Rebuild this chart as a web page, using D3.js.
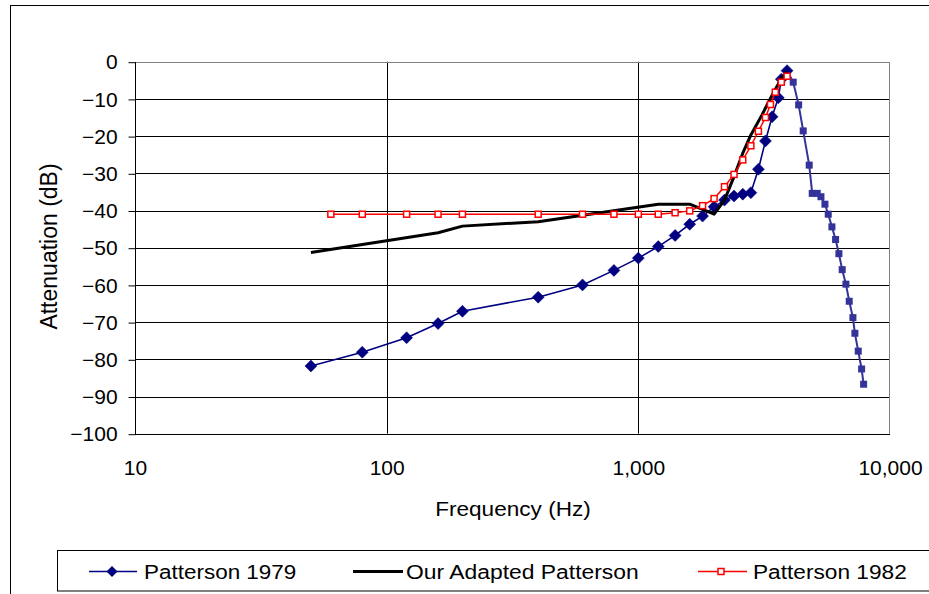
<!DOCTYPE html>
<html>
<head>
<meta charset="utf-8">
<script src="https://cdn.jsdelivr.net/npm/d3@7"></script>
<style>
  html, body { margin: 0; padding: 0; background: #fff; }
  svg { display: block; }
  text { font-family: "Liberation Sans", Arial, sans-serif; fill: #000; }
</style>
</head>
<body>
<svg id="chart" width="929" height="594"></svg>
<script>
// ---------------- data ----------------
const seriesNames = ["Patterson 1979", "Our Adapted Patterson", "Patterson 1982"];

// Patterson 1979 – low side (diamond markers)
const p79Freq = [50, 80, 120, 160, 200, 400, 600, 800, 1000, 1200, 1400, 1600, 1800, 2000,
                 2200, 2400, 2600, 2800, 3000, 3200, 3400, 3600, 3700, 3900];
const p79Att  = [-81.8, -78.1, -74.2, -70.4, -67.1, -63.3, -60.0, -56.1, -52.8, -49.7, -46.7, -43.7, -41.5, -39.0,
                 -37.2, -36.1, -35.6, -35.2, -28.9, -21.3, -14.8, -9.7, -4.7, -2.4];

// Patterson 1979 – high side (square markers)
const p79HighFreq = [4125, 4335, 4520, 4775, 4909, 5138, 5316, 5514, 5683, 5878,
                     6078, 6266, 6457, 6681, 6886, 7123, 7253, 7477, 7713, 7855];
const p79HighAtt  = [-5.5, -11.6, -18.6, -27.8, -35.4, -35.4, -36.3, -38.3, -41.0, -44.4,
                     -47.8, -51.6, -55.9, -59.8, -64.4, -68.8, -73.0, -77.8, -82.6, -86.7];

// Our Adapted Patterson (line only)
const adaptFreq = [50, 160, 200, 400, 1200, 1600, 2000, 2200, 2400, 2600, 2800, 3100, 3400, 3700, 3900];
const adaptAtt  = [-51.3, -46.0, -44.2, -43.0, -38.3, -38.3, -41.0, -37.2, -30.9, -24.6, -19.7, -14.3, -9.0, -4.5, -2.7];

// Patterson 1982 (open squares)
const p82Freq = [60, 80, 120, 160, 200, 400, 600, 800, 1000, 1200, 1400, 1600, 1800, 2000,
                 2200, 2400, 2600, 2800, 3000, 3200, 3350, 3500, 3700, 3900];
const p82Att  = [-41.0, -41.0, -41.0, -41.0, -41.0, -41.0, -41.0, -41.0, -41.0, -41.0, -40.6, -40.1, -38.7, -36.8,
                 -33.6, -30.3, -26.4, -22.6, -18.7, -15.0, -11.5, -8.2, -5.5, -3.9];

const xTicks = [10, 100, 1000, 10000];
const yTicks = [0, -10, -20, -30, -40, -50, -60, -70, -80, -90, -100];
const xTitle = "Frequency (Hz)";
const yTitle = "Attenuation (dB)";

// ---------------- layout ----------------
const svg = d3.select("#chart");
const L = 135, R = 890, T = 61.7, B = 433.7;
const x = d3.scaleLog().domain([10, 10000]).range([L, R]);
const y = d3.scaleLinear().domain([-100, 0]).range([B, T]);

const navy = "#000080", blue2 = "#333399", red = "#FF0000";

// outer chart border
svg.append("rect").attr("x", 10.5).attr("y", 5.5).attr("width", 940).attr("height", 600)
  .attr("fill", "#fff").attr("stroke", "#000").attr("stroke-width", 1);

// plot area
svg.append("rect").attr("x", L).attr("y", T).attr("width", R - L).attr("height", B - T)
  .attr("fill", "#fff");

// horizontal gridlines
svg.append("g").selectAll("line").data(yTicks.filter(v => v !== 0 && v !== -100)).join("line")
  .attr("x1", L).attr("x2", R)
  .attr("y1", d => Math.round(y(d)) + 0.5).attr("y2", d => Math.round(y(d)) + 0.5)
  .attr("stroke", "#000").attr("stroke-width", 1);

// vertical gridlines
svg.append("g").selectAll("line").data(xTicks.filter(v => v !== 10 && v !== 10000)).join("line")
  .attr("x1", d => Math.round(x(d)) + 0.5).attr("x2", d => Math.round(x(d)) + 0.5)
  .attr("y1", T).attr("y2", B)
  .attr("stroke", "#000").attr("stroke-width", 1);

// plot border (gray) top & right
svg.append("rect").attr("x", L + 0.5).attr("y", Math.round(T) + 0.5)
  .attr("width", Math.round(R - L) - 1).attr("height", Math.round(B) - Math.round(T))
  .attr("fill", "none").attr("stroke", "#808080").attr("stroke-width", 1);

// Y axis
const yAxis = svg.append("g").attr("transform", `translate(${L + 0.5},0)`)
  .call(d3.axisLeft(y).tickValues(yTicks).tickSize(7).tickSizeOuter(0).tickPadding(10)
        .tickFormat(d3.format("d")));
yAxis.select(".domain").attr("stroke", "#000").attr("d", `M0,${Math.round(T)}V${Math.round(B)+0.5}`);
yAxis.selectAll(".tick line").attr("stroke", "#000").attr("transform", "translate(0,0.5)");
yAxis.selectAll(".tick text")
  .attr("font-family", "Liberation Sans, Arial, sans-serif").attr("font-size", 20)
  .attr("fill", "#000").attr("dy", "0.36em")
  .attr("transform", "scale(1.05,1)");

// X axis
const xAxis = svg.append("g").attr("transform", `translate(0,${Math.round(B) + 0.5})`)
  .call(d3.axisBottom(x).tickValues(xTicks).tickSize(0).tickPadding(26)
        .tickFormat(d3.format(",")));
xAxis.select(".domain").attr("stroke", "#000").attr("d", `M${L},0H${R}`);
xAxis.selectAll(".tick text")
  .attr("font-family", "Liberation Sans, Arial, sans-serif").attr("font-size", 20)
  .attr("fill", "#000")
  .attr("transform", "scale(1.05,1)");

// axis titles
svg.append("text").attr("transform", "translate(513,516) scale(1.13,1)")
  .attr("text-anchor", "middle").attr("font-size", 20).text(xTitle);
svg.append("text").attr("transform", "translate(57,246.5) rotate(-90)")
  .attr("text-anchor", "middle").attr("font-size", 23).text(yTitle);

// ---------------- series ----------------
const line = d3.line().x(d => x(d[0])).y(d => y(d[1]));
const p79 = p79Freq.map((f, i) => [f, p79Att[i]]);
const p79High = p79HighFreq.map((f, i) => [f, p79HighAtt[i]]);
const adapt = adaptFreq.map((f, i) => [f, adaptAtt[i]]);
const p82 = p82Freq.map((f, i) => [f, p82Att[i]]);

const diamond = s => `M0,${-s}L${s},0L0,${s}L${-s},0Z`;

// Patterson 1979
svg.append("path").datum(p79).attr("d", line).attr("fill", "none")
  .attr("stroke", navy).attr("stroke-width", 1.6);
svg.append("path").datum([p79[p79.length - 1]].concat(p79High)).attr("d", line).attr("fill", "none")
  .attr("stroke", blue2).attr("stroke-width", 2);
svg.append("g").selectAll("path").data(p79).join("path")
  .attr("transform", d => `translate(${x(d[0])},${y(d[1])})`)
  .attr("d", diamond(6)).attr("fill", navy).attr("stroke", navy).attr("stroke-width", 0.5);
svg.append("g").selectAll("rect").data(p79High).join("rect")
  .attr("x", d => x(d[0]) - 3.5).attr("y", d => y(d[1]) - 3.5)
  .attr("width", 7).attr("height", 7).attr("fill", blue2);

// Our Adapted Patterson
svg.append("path").datum(adapt).attr("d", line).attr("fill", "none")
  .attr("stroke", "#000").attr("stroke-width", 3).attr("stroke-linejoin", "round");

// Patterson 1982
svg.append("path").datum(p82).attr("d", line).attr("fill", "none")
  .attr("stroke", red).attr("stroke-width", 1.5);
svg.append("g").selectAll("rect").data(p82).join("rect")
  .attr("x", d => x(d[0]) - 3).attr("y", d => y(d[1]) - 3)
  .attr("width", 6).attr("height", 6).attr("fill", "#fff")
  .attr("stroke", red).attr("stroke-width", 1.5);

// ---------------- legend ----------------
const lg = svg.append("g");
lg.append("rect").attr("x", 57.5).attr("y", 550.5).attr("width", 900).attr("height", 40.5)
  .attr("fill", "#fff").attr("stroke", "#000").attr("stroke-width", 1);
const ly = 571.5;
// entry 1
lg.append("line").attr("x1", 89).attr("x2", 137).attr("y1", ly).attr("y2", ly)
  .attr("stroke", navy).attr("stroke-width", 1.6);
lg.append("path").attr("transform", `translate(112,${ly})`).attr("d", diamond(5.5)).attr("fill", navy);
lg.append("text").attr("transform", `translate(144,${ly + 7.5}) scale(1.07,1)`)
  .attr("font-size", 21).text(seriesNames[0]);
// entry 2
lg.append("line").attr("x1", 353).attr("x2", 403).attr("y1", ly).attr("y2", ly)
  .attr("stroke", "#000").attr("stroke-width", 3);
lg.append("text").attr("transform", `translate(406,${ly + 7.5}) scale(1.09,1)`)
  .attr("font-size", 21).text(seriesNames[1]);
// entry 3
lg.append("line").attr("x1", 698).attr("x2", 747).attr("y1", ly).attr("y2", ly)
  .attr("stroke", red).attr("stroke-width", 1.5);
lg.append("rect").attr("x", 718).attr("y", ly - 3).attr("width", 6).attr("height", 6)
  .attr("fill", "#fff").attr("stroke", red).attr("stroke-width", 1.5);
lg.append("text").attr("transform", `translate(753,${ly + 7.5}) scale(1.08,1)`)
  .attr("font-size", 21).text(seriesNames[2]);
</script>
</body>
</html>
